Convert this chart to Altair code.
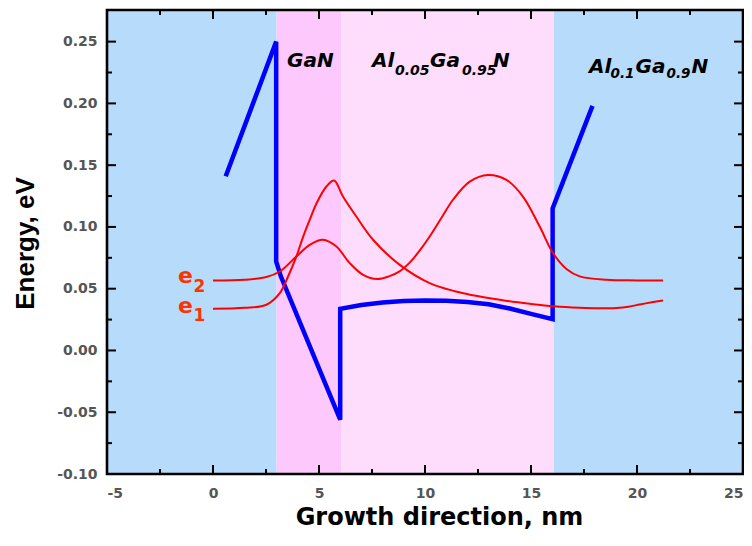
import altair as alt
import pandas as pd

# ---------------- data ----------------
region_name = ["Al0.1Ga0.9N (left)", "GaN", "Al0.05Ga0.95N", "Al0.1Ga0.9N (right)"]
region_start = [-5.0, 3.0, 6.05, 16.08]
region_end = [3.0, 6.05, 16.08, 25.0]
region_color = ["#B7DBFB", "#FDC8FB", "#FEDDFC", "#B7DBFB"]

# conduction band profile (blue)
pot_x = [0.6, 2.98, 2.98, 3.2, 6.0, 6.0, 7.0, 8.0, 9.0, 10.0, 11.0, 12.0,
         13.0, 14.0, 15.0, 16.02, 16.02, 17.9]
pot_y = [0.141, 0.25, 0.072, 0.060, -0.056, 0.0337, 0.0368, 0.0388, 0.0401,
         0.0405, 0.0403, 0.0393, 0.0374, 0.0340, 0.0296, 0.0254, 0.115, 0.198]

# wave functions (red)
e1_x = [0.0, 1.5, 2.52, 3.15, 3.54, 3.93, 4.25, 4.56, 4.88, 5.35, 5.71, 6.13,
        6.76, 7.55, 8.81, 10.22, 11.4, 12.58, 13.8, 14.94, 16.1, 17.3, 18.2,
        19.03, 19.6, 20.13, 20.7, 21.23]
e1_y = [0.0337, 0.0345, 0.037, 0.0464, 0.0599, 0.076, 0.092, 0.1057, 0.119,
        0.1327, 0.1375, 0.1246, 0.1084, 0.0896, 0.0693, 0.0545, 0.0480, 0.0437,
        0.0403, 0.0378, 0.0357, 0.0345, 0.0341, 0.0344, 0.0354, 0.0372, 0.0390,
        0.0405]
e2_x = [0.0, 1.5, 2.52, 3.15, 3.93, 4.56, 5.19, 5.82, 6.45, 7.08, 7.75, 8.3,
        8.8, 9.3, 9.8, 10.22, 10.8, 11.32, 12.11, 12.97, 13.84, 14.62, 15.41,
        16.04, 16.67, 17.3, 18.55, 20.0, 21.23]
e2_y = [0.0566, 0.0572, 0.0594, 0.0639, 0.076, 0.0855, 0.0896, 0.0841, 0.0707,
        0.0612, 0.0578, 0.0600, 0.0640, 0.0715, 0.0820, 0.0922, 0.1080, 0.1220,
        0.1367, 0.1421, 0.1381, 0.1246, 0.1003, 0.0788, 0.0660, 0.0600, 0.0572,
        0.0567, 0.0566]

x_major = [-5, 0, 5, 10, 15, 20, 25]
x_minor = [-2.5, 2.5, 7.5, 12.5, 17.5, 22.5]
y_major = [-0.10, -0.05, 0.00, 0.05, 0.10, 0.15, 0.20, 0.25]
y_minor = [-0.075, -0.025, 0.025, 0.075, 0.125, 0.175, 0.225]

x_title = "Growth direction, nm"
y_title = "Energy, eV"

# ---------------- chart ----------------
W, H = 636, 464
FONT = "DejaVu Sans"
xs = alt.Scale(domain=[-5, 25], nice=False, zero=False)
ys = alt.Scale(domain=[-0.1, 0.2756], nice=False, zero=False)

xaxis = alt.Axis(values=x_major, ticks=False, tickSize=0, domain=False, grid=False,
                 labelExpr="replace(format(datum.value, 'd'), '\u2212', '-')",
                 labelFont=FONT, labelFontSize=14, labelFontWeight="bold",
                 labelColor="#555555", labelPadding=12,
                 title=x_title, titleFont=FONT, titleFontSize=24,
                 titleFontWeight="bold", titleColor="black",
                 titleX=332, titleY=50, titleBaseline="alphabetic",
                 titleAlign="center", titleAnchor="middle")
yaxis = alt.Axis(values=y_major, ticks=False, tickSize=0, domain=False, grid=False,
                 labelExpr="replace(format(datum.value, '.2f'), '\u2212', '-')",
                 labelFont=FONT, labelFontSize=14, labelFontWeight="bold",
                 labelColor="#555555", labelPadding=10,
                 title=y_title, titleFont="Liberation Sans", titleFontSize=26,
                 titleFontWeight="bold", titleColor="black",
                 titleX=-74, titleY=233, titleAngle=270,
                 titleBaseline="alphabetic", titleAlign="center", titleAnchor="middle")

regions = pd.DataFrame({"name": region_name, "x0": region_start, "x1": region_end})
bg = alt.Chart(regions).mark_rect(strokeWidth=0).encode(
    x=alt.X("x0:Q", scale=xs, axis=xaxis),
    x2="x1:Q",
    y=alt.value(0), y2=alt.value(H),
    color=alt.Color("name:N", scale=alt.Scale(domain=region_name, range=region_color),
                    legend=None),
)

pot = pd.DataFrame({"x": pot_x, "y": pot_y, "i": list(range(len(pot_x)))})
pot_line = alt.Chart(pot).mark_line(color="#0000FF", strokeWidth=4.5,
                                    strokeJoin="miter").encode(
    x=alt.X("x:Q", scale=xs, axis=xaxis),
    y=alt.Y("y:Q", scale=ys, axis=yaxis),
    order="i:Q",
)

def wave(xv, yv):
    df = pd.DataFrame({"x": xv, "y": yv})
    return alt.Chart(df).mark_line(color="#FF0000", strokeWidth=2,
                                   interpolate="catmull-rom").encode(
        x=alt.X("x:Q", scale=xs, axis=xaxis),
        y=alt.Y("y:Q", scale=ys, axis=yaxis),
    )

def xticks(vals, length, top):
    df = pd.DataFrame({"v": vals})
    if top:
        yy, yy2 = alt.value(0), alt.value(length)
    else:
        yy, yy2 = alt.value(H), alt.value(H - length)
    return alt.Chart(df).mark_rule(color="black", strokeWidth=2).encode(
        x=alt.X("v:Q", scale=xs, axis=xaxis), y=yy, y2=yy2)

def yticks(vals, length, right):
    df = pd.DataFrame({"v": vals})
    if right:
        xx, xx2 = alt.value(W), alt.value(W - length)
    else:
        xx, xx2 = alt.value(0), alt.value(length)
    return alt.Chart(df).mark_rule(color="black", strokeWidth=2).encode(
        y=alt.Y("v:Q", scale=ys, axis=yaxis), x=xx, x2=xx2)

def label(text, px, py, size, color="black", italic=True):
    return alt.Chart(pd.DataFrame({"t": [text]})).mark_text(
        align="left", baseline="alphabetic", font=FONT, fontWeight="bold",
        fontStyle="italic" if italic else "normal", fontSize=size, color=color
    ).encode(x=alt.value(px), y=alt.value(py), text="t:N")

frame = alt.Chart(pd.DataFrame({"a": [0]})).mark_rect(
    filled=False, stroke="black", strokeWidth=2.6, fill=None
).encode(x=alt.value(0), x2=alt.value(W), y=alt.value(0), y2=alt.value(H))

E = "#FF3300"
texts = [
    label("GaN", 180, 57, 20),
    label("Al", 265, 57, 20), label("0.05", 288, 64.5, 14), label("Ga", 323, 57, 20),
    label("0.95", 355, 64.5, 14), label("N", 386, 57, 20),
    label("Al", 482, 62.5, 20), label("0.1", 503.5, 67.5, 13.5), label("Ga", 528.5, 62.5, 20),
    label("0.9", 559.5, 67.5, 13.5), label("N", 584.5, 62.5, 20),
    label("e", 71, 273, 22, E, False), label("2", 86.5, 281.5, 17, E, False),
    label("e", 71, 303, 22, E, False), label("1", 86.5, 311, 17, E, False),
]

chart = alt.layer(
    bg, pot_line, wave(e1_x, e1_y), wave(e2_x, e2_y),
    xticks(x_major, 9, False), xticks(x_minor, 5, False),
    xticks(x_major, 9, True), xticks(x_minor, 5, True),
    yticks(y_major, 9, False), yticks(y_minor, 5, False),
    yticks(y_major, 9, True), yticks(y_minor, 5, True),
    frame, *texts,
).properties(
    width=W, height=H,
    autosize=alt.AutoSizeParams(type="none"),
    padding={"left": 99, "top": 2, "right": 1, "bottom": 64},
).configure_view(stroke=None).configure(background="white")

chart.save("out.html", embed_options={"renderer": "svg", "actions": False})
